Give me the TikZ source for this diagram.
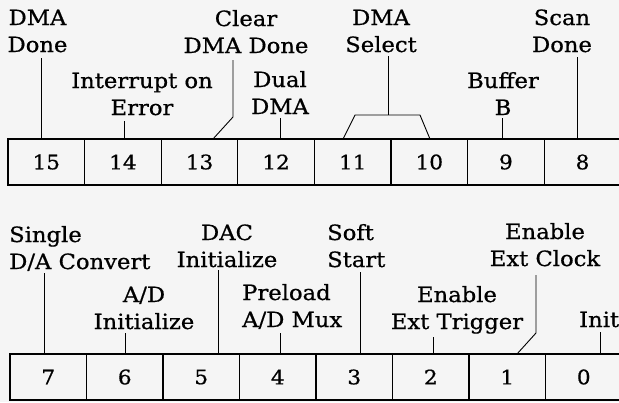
\documentclass[tikz,border=0pt]{standalone}
\usepackage{fontspec}
\setmainfont[FakeStretch=1.08,FakeBold=0.7]{DejaVu Serif}
\begin{document}
\begin{tikzpicture}[x=1pt,y=-1pt,
  cell/.style={draw=black,line width=1.1pt,minimum height=46pt,inner sep=0pt,
    font=\fontsize{20}{24}\selectfont},
  lab/.style={inner sep=0pt,align=center,anchor=base,
    font=\fontsize{21}{27}\selectfont},
  labl/.style={lab,align=left,anchor=base west},
  conn/.style={line width=0.9pt}]
\useasboundingbox[fill=black!4] (0,0) rectangle (619,402);
% top register
\foreach \i in {0,...,7}{
  \pgfmathtruncatemacro{\n}{15-\i}
  \node[cell,minimum width=76.6pt] (b\n) at ({8+76.6*\i+38.3},162) {\n};
}
% bottom register
\foreach \i in {0,...,7}{
  \pgfmathtruncatemacro{\n}{7-\i}
  \node[cell,minimum width=76.5pt] (c\n) at ({10+76.5*\i+38.25},377) {\n};
}
% top labels (position = baseline of last line)
\node[lab] (l15) at (37.5,52) {DMA\\Done};
\node[lab] (l14) at (142,115) {Interrupt on\\Error};
\node[lab] (l13) at (246,53) {Clear\\DMA Done};
\node[lab] (l12) at (280,114) {Dual\\DMA};
\node[lab] (l11) at (381,52) {DMA\\Select};
\node[lab] (l9) at (503,115) {Buffer\\B};
\node[lab] (l8) at (562,52) {Scan\\Done};
% bottom labels
\node[labl] (m7) at (9,269) {Single\\D/A Convert};
\node[lab] (m6) at (144,329) {A/D\\Initialize};
\node[lab] (m5) at (227,267) {DAC\\Initialize};
\node[labl] (m4) at (242,327) {Preload\\A/D Mux};
\node[labl] (m3) at (327,267) {Soft\\Start};
\node[lab] (m2) at (457,329) {Enable\\Ext Trigger};
\node[lab] (m1) at (545,266) {Enable\\Ext Clock};
\node[labl] (m0) at (579,327) {Init};
% connector start points
\coordinate (p15) at (41,58);
\coordinate (p14) at (124,121);
\coordinate (p13) at (233,60);
\coordinate (k13) at (233,117);
\coordinate (e13) at (213,139);
\coordinate (p12) at (280,118);
\coordinate (p11) at (388,56);
\coordinate (k11) at (388,115);
\coordinate (sL) at (355,115);
\coordinate (sR) at (420,115);
\coordinate (e11) at (343,139);
\coordinate (e10) at (430,139);
\coordinate (p9) at (502,118);
\coordinate (p8) at (577,57);
\coordinate (q7) at (44,273);
\coordinate (q6) at (125,333);
\coordinate (q5) at (218,270);
\coordinate (q4) at (280,333);
\coordinate (q3) at (360,272);
\coordinate (q2) at (433,337);
\coordinate (q1) at (536,275);
\coordinate (k1) at (536,333);
\coordinate (e1) at (517,354);
\coordinate (q0) at (600,332);
% connectors top
\draw[conn] (p15) -- (p15 |- b15.north);
\draw[conn] (p14) -- (p14 |- b14.north);
\draw[conn] (p13) -- (k13) -- (e13);
\draw[conn] (p12) -- (p12 |- b12.north);
\draw[conn] (p11) -- (k11);
\draw[conn] (e11) -- (sL) -- (sR) -- (e10);
\draw[conn] (p9) -- (p9 |- b9.north);
\draw[conn] (p8) -- (p8 |- b8.north);
% connectors bottom
\draw[conn] (q7) -- (q7 |- c7.north);
\draw[conn] (q6) -- (q6 |- c6.north);
\draw[conn] (q5) -- (q5 |- c5.north);
\draw[conn] (q4) -- (q4 |- c4.north);
\draw[conn] (q3) -- (q3 |- c3.north);
\draw[conn] (q2) -- (q2 |- c2.north);
\draw[conn] (q1) -- (k1) -- (e1);
\draw[conn] (q0) -- (q0 |- c0.north);
\end{tikzpicture}
\end{document}
